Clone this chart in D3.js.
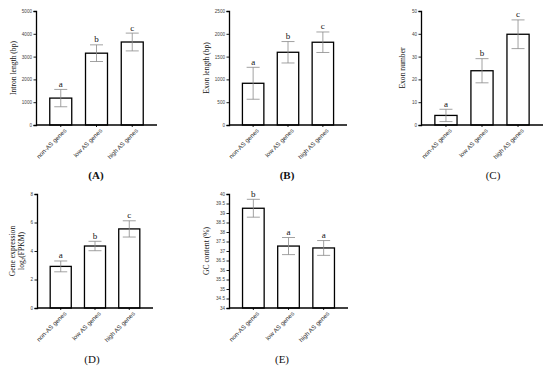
<!DOCTYPE html>
<html>
<head>
<meta charset="utf-8">
<script src="https://cdn.jsdelivr.net/npm/d3@7"></script>
<style>
  body { margin: 0; background: #fff; }
  svg { display: block; font-family: "Liberation Serif", "Times New Roman", serif; }
</style>
</head>
<body>
<div id="chart"></div>
<script>
// groups shared by every panel
const groups = ["non-AS genes", "low AS genes", "high AS genes"]

// (A) intron length
const intronMean = [1180, 3150, 3640]
const intronErr = [380, 365, 390]
const intronLetters = ["a", "b", "c"]
const intronTicks = [0, 1000, 2000, 3000, 4000, 5000]

// (B) exon length
const exonLenMean = [915, 1595, 1815]
const exonLenErr = [350, 235, 225]
const exonLenLetters = ["a", "b", "c"]
const exonLenTicks = [0, 500, 1000, 1500, 2000, 2500]

// (C) exon number
const exonNumMean = [4.2, 23.8, 39.8]
const exonNumErr = [2.7, 5.3, 6.3]
const exonNumLetters = ["a", "b", "c"]
const exonNumTicks = [0, 10, 20, 30, 40, 50]

// (D) gene expression
const exprMean = [2.92, 4.35, 5.55]
const exprErr = [0.38, 0.33, 0.57]
const exprLetters = ["a", "b", "c"]
const exprTicks = [0, 2, 4, 6, 8]

// (E) GC content
const gcMean = [39.25, 37.26, 37.16]
const gcErr = [0.47, 0.45, 0.39]
const gcLetters = ["b", "a", "a"]
const gcTicks = [34, 34.5, 35, 35.5, 36, 36.5, 37, 37.5, 38, 38.5, 39, 39.5, 40]

const W = 550, H = 369

const svg = d3.select("#chart").append("svg")
    .attr("width", W)
    .attr("height", H)

function drawPanel(p) {
    const g = svg.append("g")

    const x = d3.scaleBand()
        .domain(groups)
        .range([p.x0, p.x1])
        .padding(0.385)

    const y = d3.scaleLinear()
        .domain([p.ticks[0], p.ticks[p.ticks.length - 1]])
        .range([p.yBottom, p.yTop])

    // y axis
    const yAxis = g.append("g")
        .attr("transform", `translate(${p.x0},0)`)
        .call(d3.axisLeft(y).tickValues(p.ticks).tickSize(2.5).tickPadding(1.5)
            .tickFormat(d3.format("")))
    yAxis.select(".domain").attr("stroke", "#000").attr("stroke-width", 1.3)
    yAxis.selectAll(".tick line").attr("stroke", "#000").attr("stroke-width", 0.9)
    yAxis.selectAll(".tick text")
        .attr("font-size", "4.6px")
        .attr("font-family", "Liberation Sans, Arial, sans-serif")
        .attr("fill", "#444")

    // bars
    g.selectAll("rect.bar")
        .data(p.mean)
        .join("rect")
        .attr("class", "bar")
        .attr("x", (d, i) => x(groups[i]))
        .attr("width", x.bandwidth())
        .attr("y", d => y(d))
        .attr("height", d => y(p.ticks[0]) - y(d))
        .attr("fill", "#fff")
        .attr("stroke", "#000")
        .attr("stroke-width", 1.3)

    // error bars
    const cap = 6.5
    const err = g.append("g")
        .attr("stroke", "#8a8a8a")
        .attr("stroke-width", 0.8)
    p.mean.forEach((m, i) => {
        const cx = x(groups[i]) + x.bandwidth() / 2
        const hi = y(m + p.err[i]), lo = y(m - p.err[i])
        err.append("line").attr("x1", cx).attr("x2", cx).attr("y1", hi).attr("y2", lo)
        err.append("line").attr("x1", cx - cap).attr("x2", cx + cap).attr("y1", hi).attr("y2", hi)
        err.append("line").attr("x1", cx - cap).attr("x2", cx + cap).attr("y1", lo).attr("y2", lo)
    })

    // significance letters
    g.selectAll("text.letter")
        .data(p.letters)
        .join("text")
        .attr("class", "letter")
        .attr("x", (d, i) => x(groups[i]) + x.bandwidth() / 2)
        .attr("y", (d, i) => y(p.mean[i] + p.err[i]) - 2.5)
        .attr("text-anchor", "middle")
        .attr("font-size", "9px")
        .attr("fill", "#111")
        .text(d => d)

    // x axis
    const xAxis = g.append("g")
        .attr("transform", `translate(0,${p.yBottom})`)
        .call(d3.axisBottom(x).tickSize(2).tickPadding(2))
    xAxis.select(".domain")
        .attr("d", `M${p.x0},0H${p.x1}`)
        .attr("stroke", "#000").attr("stroke-width", 1.3)
    xAxis.selectAll(".tick line").attr("stroke", "#000").attr("stroke-width", 0.9)
    xAxis.selectAll(".tick text")
        .attr("font-size", "6.2px")
        .attr("fill", "#333")
        .attr("text-anchor", "end")
        .attr("dy", "0.3em")
        .attr("transform", "translate(2,2) rotate(-45)")

    // y title
    const ty = g.append("text")
        .attr("transform", `translate(${p.titleX},${(p.yTop + p.yBottom) / 2}) rotate(-90)`)
        .attr("text-anchor", "middle")
        .attr("font-size", "7.6px")
        .attr("fill", "#111")
    p.title.forEach((line, k) => {
        ty.append("tspan")
            .attr("x", 0)
            .attr("dy", k === 0 ? 0 : "1.15em")
            .html(line)
    })

    // panel label
    g.append("text")
        .attr("x", p.labelX)
        .attr("y", p.labelY)
        .attr("text-anchor", "middle")
        .attr("font-size", "11px")
        .attr("font-weight", p.bold ? "bold" : "normal")
        .attr("fill", "#111")
        .text(p.label)
}

drawPanel({ x0: 36, x1: 157, yTop: 11, yBottom: 125, ticks: intronTicks,
    mean: intronMean, err: intronErr, letters: intronLetters,
    title: ["Intron length (bp)"], titleX: 16, label: "(A)", labelX: 96, labelY: 179, bold: true })

drawPanel({ x0: 229, x1: 347, yTop: 11, yBottom: 125, ticks: exonLenTicks,
    mean: exonLenMean, err: exonLenErr, letters: exonLenLetters,
    title: ["Exon length (bp)"], titleX: 209, label: "(B)", labelX: 287, labelY: 179, bold: true })

drawPanel({ x0: 421, x1: 543, yTop: 11, yBottom: 125, ticks: exonNumTicks,
    mean: exonNumMean, err: exonNumErr, letters: exonNumLetters,
    title: ["Exon number"], titleX: 405, label: "(C)", labelX: 493, labelY: 179, bold: false })

drawPanel({ x0: 37, x1: 153, yTop: 194, yBottom: 308, ticks: exprTicks,
    mean: exprMean, err: exprErr, letters: exprLetters,
    title: ["Gene expression", "log<tspan font-size='5px' dy='1.5'>2</tspan><tspan dy='-1.5'>(FPKM)</tspan>"],
    titleX: 15, label: "(D)", labelX: 92, labelY: 363, bold: false })

drawPanel({ x0: 229, x1: 348, yTop: 194, yBottom: 308, ticks: gcTicks,
    mean: gcMean, err: gcErr, letters: gcLetters,
    title: ["GC content (%)"], titleX: 209, label: "(E)", labelX: 282, labelY: 363, bold: false })
</script>
</body>
</html>
